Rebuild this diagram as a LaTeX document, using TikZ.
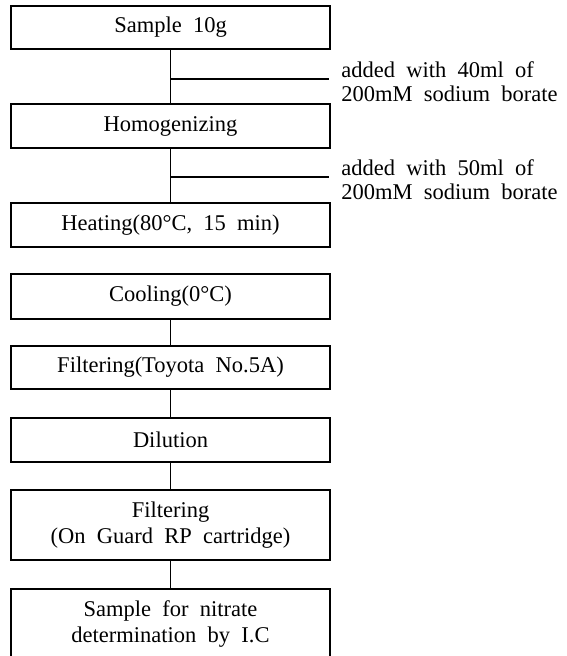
\documentclass[tikz,border=0pt]{standalone}
\usepackage{fontspec}
\setmainfont{Liberation Serif}[WordSpace={2}]
\begin{document}
\begin{tikzpicture}[x=0.5pt,y=-0.5pt,
  box/.style={draw, line width=0.7pt, minimum width=159.5pt, inner sep=0pt,
    align=center, font=\fontsize{11.25}{13}\selectfont},
  side/.style={anchor=west, align=left, inner sep=0pt,
    font=\fontsize{11.25}{11.8}\selectfont},
  link/.style={line width=0.7pt}]
\clip (0,0) rectangle (566,656);
\node[box, minimum height=21.5pt] (b1) at (170.5,27.5) {Sample 10g};
\node[box, minimum height=22pt] (b2) at (170.5,126) {Homogenizing};
\node[box, minimum height=22pt] (b3) at (170.5,225) {Heating(80°C, 15 min)};
\node[box, minimum height=22.5pt] (b4) at (170.5,296.5) {Cooling(0°C)};
\node[box, minimum height=21.5pt] (b5) at (170.5,367.5) {Filtering(Toyota No.5A)};
\node[box, minimum height=22pt] (b6) at (170.5,440) {Dilution};
\node[box, minimum height=35pt] (b7) at (170.5,525) {Filtering\\(On Guard RP cartridge)};
\node[box, minimum height=35pt] (b8) at (170.5,624) {Sample for nitrate\\determination by I.C};
\node[side] (t1) at (341,81.5) {added with 40ml of\\200mM sodium borate};
\node[side] (t2) at (341,179.5) {added with 50ml of\\200mM sodium borate};
\coordinate (j1) at (170.5,79);
\coordinate (e1) at (329,79);
\coordinate (j2) at (170.5,177);
\coordinate (e2) at (329,177);
\draw[link] (b1.south) -- (b2.north);
\draw[link] (b2.south) -- (b3.north);
\draw[link] (j1) -- (e1);
\draw[link] (j2) -- (e2);
\draw[link] (b4.south) -- (b5.north);
\draw[link] (b5.south) -- (b6.north);
\draw[link] (b6.south) -- (b7.north);
\draw[link] (b7.south) -- (b8.north);
\end{tikzpicture}
\end{document}
